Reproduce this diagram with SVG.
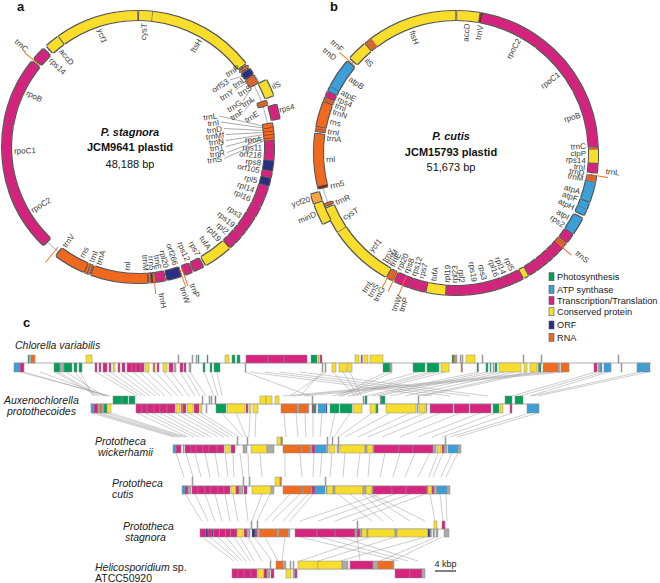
<svg xmlns="http://www.w3.org/2000/svg" width="660" height="583" viewBox="0 0 660 583">
<defs>
<style>
.t{font-family:"Liberation Sans",Arial,sans-serif}
.gl{font-size:8px;fill:#3a3a3a;dominant-baseline:central}
.e{text-anchor:end}
.m{text-anchor:middle}
.P{fill:#d6247f;stroke:#d6247f}
.Y{fill:#f8de2c;stroke:#f8de2c}
.O{fill:#ef6b1d;stroke:#ef6b1d}
.B{fill:#3a9fd8;stroke:#3a9fd8}
.N{fill:#2b2d83;stroke:#2b2d83}
.G{fill:#00a05b;stroke:#00a05b}
.Q{fill:#a9a9a9;stroke:#a9a9a9}
.K{fill:#8a1c1c;stroke:#8a1c1c}
.L{fill:#f4a640;stroke:#f4a640}
.rg circle{fill:none;stroke-width:9}
.og circle{fill:none;stroke-width:8}
.tg circle{fill:none;stroke-width:20}
.c rect{stroke:#8f8f8f;stroke-width:.5}
.lg rect{stroke:#555;stroke-width:.6}
.cn{fill:none;stroke:#9d9d9d;stroke-width:.5}
.ld{fill:none;stroke:#555;stroke-width:.5}
.base{fill:none;stroke:#9a9a9a;stroke-width:.8}
.ring{fill:none;stroke:#8a8a8a;stroke-width:.7}
.sp{font-size:10.5px;font-style:italic;fill:#222}
.nm{font-size:10.5px;fill:#222}
.ti{font-size:11px;fill:#111}
.pl{font-size:13px;font-weight:bold;fill:#111}
.lt{font-size:9.2px;fill:#222}
</style>
<filter id="ol" x="-5%" y="-5%" width="110%" height="110%">
<feMorphology in="SourceAlpha" operator="dilate" radius="0.55" result="d"/>
<feFlood flood-color="#555"/>
<feComposite in2="d" operator="in"/>
<feMerge><feMergeNode/><feMergeNode in="SourceGraphic"/></feMerge>
</filter>
</defs>
<rect width="660" height="583" fill="#fff"/>

<text class="t pl" x="17" y="11">a</text>
<text class="t pl" x="330" y="11">b</text>
<text class="t pl" x="23" y="327">c</text>

<!-- ===== Circle a ===== -->
<g id="circleA">
<circle class="ring" cx="138" cy="147" r="131.5"/>
<g class="rg" filter="url(#ol)" transform="translate(138 147) rotate(-90)">
<circle r="131.5" pathLength="360" class="Y" stroke-dasharray="5.5 360" stroke-dashoffset="-0.5"/>
<circle r="131.5" pathLength="360" class="Y" stroke-dasharray="45.6 360" stroke-dashoffset="-6.4"/>
<circle r="131.5" pathLength="360" class="Y" stroke-dasharray="12 360" stroke-dashoffset="-138"/>
<circle r="131.5" pathLength="360" class="Y" stroke-dasharray="6 360" stroke-dashoffset="-318"/>
<circle r="131.5" pathLength="360" class="Y" stroke-dasharray="35.2 360" stroke-dashoffset="-324.5"/>
<circle r="131.5" pathLength="360" class="P" stroke-dasharray="4.2 360" stroke-dashoffset="-87.5"/>
<circle r="131.5" pathLength="360" class="P" stroke-dasharray="3.5 360" stroke-dashoffset="-92"/>
<circle r="131.5" pathLength="360" class="P" stroke-dasharray="2.5 360" stroke-dashoffset="-100.5"/>
<circle r="131.5" pathLength="360" class="P" stroke-dasharray="4.7 360" stroke-dashoffset="-107"/>
<circle r="131.5" pathLength="360" class="P" stroke-dasharray="3.7 360" stroke-dashoffset="-112"/>
<circle r="131.5" pathLength="360" class="P" stroke-dasharray="4.7 360" stroke-dashoffset="-116"/>
<circle r="131.5" pathLength="360" class="P" stroke-dasharray="6.7 360" stroke-dashoffset="-121"/>
<circle r="131.5" pathLength="360" class="P" stroke-dasharray="2.7 360" stroke-dashoffset="-128"/>
<circle r="131.5" pathLength="360" class="P" stroke-dasharray="3.7 360" stroke-dashoffset="-131"/>
<circle r="131.5" pathLength="360" class="P" stroke-dasharray="2.3 360" stroke-dashoffset="-135"/>
<circle r="131.5" pathLength="360" class="P" stroke-dasharray="4 360" stroke-dashoffset="-151.5"/>
<circle r="131.5" pathLength="360" class="P" stroke-dasharray="3 360" stroke-dashoffset="-156.7"/>
<circle r="131.5" pathLength="360" class="P" stroke-dasharray="3.5 360" stroke-dashoffset="-168.5"/>
<circle r="131.5" pathLength="360" class="P" stroke-dasharray="27.7 360" stroke-dashoffset="-224"/>
<circle r="131.5" pathLength="360" class="P" stroke-dasharray="27.7 360" stroke-dashoffset="-252"/>
<circle r="131.5" pathLength="360" class="P" stroke-dasharray="28.8 360" stroke-dashoffset="-280"/>
<circle r="131.5" pathLength="360" class="P" stroke-dasharray="5.5 360" stroke-dashoffset="-310.5"/>
<circle r="131.5" pathLength="360" class="N" stroke-dasharray="2.5 360" stroke-dashoffset="-55"/>
<circle r="131.5" pathLength="360" class="N" stroke-dasharray="4 360" stroke-dashoffset="-96"/>
<circle r="131.5" pathLength="360" class="N" stroke-dasharray="3 360" stroke-dashoffset="-103.5"/>
<circle r="131.5" pathLength="360" class="N" stroke-dasharray="6 360" stroke-dashoffset="-161.5"/>
<circle r="131.5" pathLength="360" class="O" stroke-dasharray="24 360" stroke-dashoffset="-176"/>
<circle r="131.5" pathLength="360" class="O" stroke-dasharray="13.3 360" stroke-dashoffset="-203.5"/>
<circle r="131.5" pathLength="360" class="O" stroke-dasharray="7 360" stroke-dashoffset="-80"/>
<circle r="131.5" pathLength="360" class="O" stroke-dasharray="0.7 360" stroke-dashoffset="-53.2"/>
<circle r="131.5" pathLength="360" class="O" stroke-dasharray="0.7 360" stroke-dashoffset="-58.3"/>
<circle r="131.5" pathLength="360" class="O" stroke-dasharray="0.7 360" stroke-dashoffset="-59.2"/>
<circle r="131.5" pathLength="360" class="O" stroke-dasharray="0.7 360" stroke-dashoffset="-60.1"/>
<circle r="131.5" pathLength="360" class="O" stroke-dasharray="0.7 360" stroke-dashoffset="-61"/>
<circle r="131.5" pathLength="360" class="O" stroke-dasharray="0.7 360" stroke-dashoffset="-70.2"/>
<circle r="131.5" pathLength="360" class="O" stroke-dasharray="0.7 360" stroke-dashoffset="-71.1"/>
<circle r="131.5" pathLength="360" class="O" stroke-dasharray="0.7 360" stroke-dashoffset="-172.6"/>
<circle r="131.5" pathLength="360" class="K" stroke-dasharray="0.7 360" stroke-dashoffset="-173.6"/>
<circle r="131.5" pathLength="360" class="O" stroke-dasharray="0.7 360" stroke-dashoffset="-174.6"/>
<circle r="131.5" pathLength="360" class="O" stroke-dasharray="0.7 360" stroke-dashoffset="-201"/>
<circle r="131.5" pathLength="360" class="O" stroke-dasharray="0.7 360" stroke-dashoffset="-202.2"/>
<circle r="131.5" pathLength="360" class="K" stroke-dasharray="0.25 360" stroke-dashoffset="-81.6"/>
<circle r="131.5" pathLength="360" class="K" stroke-dasharray="0.25 360" stroke-dashoffset="-83.1"/>
<circle r="131.5" pathLength="360" class="K" stroke-dasharray="0.25 360" stroke-dashoffset="-84.6"/>
<circle r="131.5" pathLength="360" class="K" stroke-dasharray="0.25 360" stroke-dashoffset="-86"/>
</g>
<g class="og" filter="url(#ol)" transform="translate(138 147) rotate(-90)">
<circle r="140.5" pathLength="360" class="Y" stroke-dasharray="6.5 360" stroke-dashoffset="-62.5"/>
<circle r="140.5" pathLength="360" class="P" stroke-dasharray="5.5 360" stroke-dashoffset="-73"/>
</g>
<g class="tg" transform="translate(138 147) rotate(-90)">
<circle r="138" pathLength="360" class="O" stroke-dasharray="0.35 360" stroke-dashoffset="-160"/>
<circle r="138" pathLength="360" class="O" stroke-dasharray="0.35 360" stroke-dashoffset="-161"/>
<circle r="138" pathLength="360" class="O" stroke-dasharray="0.35 360" stroke-dashoffset="-172.9"/>
<circle r="138" pathLength="360" class="O" stroke-dasharray="0.35 360" stroke-dashoffset="-218.5"/>
<circle r="138" pathLength="360" class="O" stroke-dasharray="0.35 360" stroke-dashoffset="-309.6"/>
</g>
<g class="t gl e">
<text transform="rotate(3 138 147) translate(138 23) rotate(-90)">cysT</text>
<text transform="rotate(30 138 147) translate(138 23) rotate(-90)">ftsH</text>
<text transform="rotate(86.5 138 147) translate(138 23) rotate(-90)">rpoA</text>
<text transform="rotate(90.5 138 147) translate(138 23) rotate(-90)">rps11</text>
<text transform="rotate(94 138 147) translate(138 23) rotate(-90)">orf216</text>
<text transform="rotate(97.5 138 147) translate(138 23) rotate(-90)">rps8</text>
<text transform="rotate(101 138 147) translate(138 23) rotate(-90)">orf105</text>
<text transform="rotate(106 138 147) translate(138 23) rotate(-90)">rpl5</text>
<text transform="rotate(110.5 138 147) translate(138 23) rotate(-90)">rpl14</text>
<text transform="rotate(115 138 147) translate(138 23) rotate(-90)">rpl16</text>
<text transform="rotate(124 138 147) translate(138 23) rotate(-90)">rps3</text>
<text transform="rotate(129.5 138 147) translate(138 23) rotate(-90)">rps19</text>
<text transform="rotate(134 138 147) translate(138 23) rotate(-90)">rpl2</text>
<text transform="rotate(139 138 147) translate(138 23) rotate(-90)">rpl19</text>
<text transform="rotate(145 138 147) translate(138 23) rotate(-90)">tufA</text>
<text transform="rotate(151 138 147) translate(138 23) rotate(-90)">rps7</text>
<text transform="rotate(156.5 138 147) translate(138 23) rotate(-90)">rps12</text>
<text transform="rotate(162.5 138 147) translate(138 23) rotate(-90)">orf266</text>
<text transform="rotate(167 138 147) translate(138 23) rotate(-90)">rpl20</text>
<text transform="rotate(170.5 138 147) translate(138 23) rotate(-90)">trnE</text>
<text transform="rotate(173.5 138 147) translate(138 23) rotate(-90)">rrn5</text>
<text transform="rotate(176.5 138 147) translate(138 23) rotate(-90)">trnM</text>
<text transform="rotate(311 138 147) translate(138 0) rotate(90)">trnC</text>
</g>
<g class="t gl">
<text transform="rotate(185 138 147) translate(138 23) rotate(90)">rnl</text>
<text transform="rotate(198.5 138 147) translate(138 23) rotate(90)">trnA</text>
<text transform="rotate(202 138 147) translate(138 23) rotate(90)">trnI</text>
<text transform="rotate(207 138 147) translate(138 23) rotate(90)">rns</text>
<text transform="rotate(216.5 138 147) translate(138 23) rotate(90)">trnV</text>
<text transform="rotate(239 138 147) translate(138 23) rotate(90)">rpoC2</text>
<text transform="rotate(268 138 147) translate(138 23) rotate(90)">rpoC1</text>
<text transform="rotate(296 138 147) translate(138 23) rotate(90)">rpoB</text>
<text transform="rotate(315 138 147) translate(138 23) rotate(90)">rps14</text>
<text transform="rotate(321.5 138 147) translate(138 23) rotate(90)">accD</text>
<text transform="rotate(342 138 147) translate(138 23) rotate(90)">ycf1</text>
<text transform="rotate(66 138 147) translate(138 0) rotate(-90)">ilS</text>
<text transform="rotate(75.5 138 147) translate(138 1) rotate(-90)">rps4</text>
<text transform="rotate(158.5 138 147) translate(138 0) rotate(-90)">trnP</text>
<text transform="rotate(162.5 138 147) translate(138 0) rotate(-90)">trnW</text>
<text transform="rotate(171 138 147) translate(138 -1) rotate(-90)">trnH</text>
</g>
<g class="t gl e">
<text transform="translate(239 67) rotate(-33)">trnR</text>
<text transform="translate(228 81) rotate(-33)">orf53</text>
<text transform="translate(245 79) rotate(-33)">trnL</text>
<text transform="translate(233 91) rotate(-33)">trnY</text>
<text transform="translate(251 87) rotate(-33)">trnS</text>
<text transform="translate(241 102) rotate(-33)">trnG</text>
<text transform="translate(254 98) rotate(-33)">trnL</text>
<text transform="translate(243 111) rotate(-33)">trnF</text>
<text transform="translate(258 113) rotate(-33)">trnE</text>
<text transform="translate(217 116) rotate(-8)">trnL</text>
<text transform="translate(219 122.5) rotate(-8)">trnI</text>
<text transform="translate(222 129) rotate(-8)">trnD</text>
<text transform="translate(224 135) rotate(-8)">trnMf</text>
<text transform="translate(224 141) rotate(-8)">trnN</text>
<text transform="translate(224 147) rotate(-8)">trnT</text>
<text transform="translate(225 153) rotate(-8)">trnR</text>
<text transform="translate(222 159) rotate(-8)">trnS</text>
</g>
<path class="ld" d="M241 66L243 71M230 80L243 76M235 90L248 82M243 101L251 89M245 110L254 99M219 116L263 126M221 122L263.5 128M224 128.5L264 130.5M226 134.5L264 132.5M226 140.5L264.5 134.5M226 146.5L264.5 136.5M227 152.5L264.7 138.5M224 158.5L264.8 140.5"/>
<text class="t ti m" x="130" y="136" font-weight="bold" font-style="italic">P. stagnora</text>
<text class="t ti m" x="130" y="151" font-weight="bold">JCM9641 plastid</text>
<text class="t ti m" x="130" y="168">48,188 bp</text>
</g>

<!-- ===== Circle b ===== -->
<g id="circleB">
<circle class="ring" cx="456" cy="153" r="137.5"/>
<g class="rg" filter="url(#ol)" transform="translate(456 153) rotate(-90)">
<circle r="137.5" pathLength="360" class="Y" stroke-dasharray="9 360" stroke-dashoffset="-0.5"/>
<circle r="137.5" pathLength="360" class="Y" stroke-dasharray="5.5 360" stroke-dashoffset="-88.5"/>
<circle r="137.5" pathLength="360" class="Y" stroke-dasharray="2 360" stroke-dashoffset="-149.5"/>
<circle r="137.5" pathLength="360" class="Y" stroke-dasharray="7.5 360" stroke-dashoffset="-184.5"/>
<circle r="137.5" pathLength="360" class="Y" stroke-dasharray="26.5 360" stroke-dashoffset="-209.5"/>
<circle r="137.5" pathLength="360" class="Y" stroke-dasharray="10.5 360" stroke-dashoffset="-236.3"/>
<circle r="137.5" pathLength="360" class="Y" stroke-dasharray="8 360" stroke-dashoffset="-312"/>
<circle r="137.5" pathLength="360" class="Y" stroke-dasharray="36.2 360" stroke-dashoffset="-323.5"/>
<circle r="137.5" pathLength="360" class="P" stroke-dasharray="25.8 360" stroke-dashoffset="-11"/>
<circle r="137.5" pathLength="360" class="P" stroke-dasharray="24.8 360" stroke-dashoffset="-37"/>
<circle r="137.5" pathLength="360" class="P" stroke-dasharray="25.3 360" stroke-dashoffset="-62"/>
<circle r="137.5" pathLength="360" class="P" stroke-dasharray="3.5 360" stroke-dashoffset="-94.5"/>
<circle r="137.5" pathLength="360" class="P" stroke-dasharray="3.8 360" stroke-dashoffset="-125"/>
<circle r="137.5" pathLength="360" class="P" stroke-dasharray="2.3 360" stroke-dashoffset="-131.5"/>
<circle r="137.5" pathLength="360" class="P" stroke-dasharray="2.8 360" stroke-dashoffset="-134"/>
<circle r="137.5" pathLength="360" class="P" stroke-dasharray="2.8 360" stroke-dashoffset="-137"/>
<circle r="137.5" pathLength="360" class="P" stroke-dasharray="2.8 360" stroke-dashoffset="-140"/>
<circle r="137.5" pathLength="360" class="P" stroke-dasharray="2.8 360" stroke-dashoffset="-143"/>
<circle r="137.5" pathLength="360" class="P" stroke-dasharray="3 360" stroke-dashoffset="-146"/>
<circle r="137.5" pathLength="360" class="P" stroke-dasharray="3.8 360" stroke-dashoffset="-152"/>
<circle r="137.5" pathLength="360" class="P" stroke-dasharray="3.8 360" stroke-dashoffset="-156"/>
<circle r="137.5" pathLength="360" class="P" stroke-dasharray="3.8 360" stroke-dashoffset="-160"/>
<circle r="137.5" pathLength="360" class="P" stroke-dasharray="3.8 360" stroke-dashoffset="-164"/>
<circle r="137.5" pathLength="360" class="P" stroke-dasharray="3.8 360" stroke-dashoffset="-168"/>
<circle r="137.5" pathLength="360" class="P" stroke-dasharray="3.8 360" stroke-dashoffset="-172"/>
<circle r="137.5" pathLength="360" class="P" stroke-dasharray="3.8 360" stroke-dashoffset="-176"/>
<circle r="137.5" pathLength="360" class="P" stroke-dasharray="4 360" stroke-dashoffset="-180"/>
<circle r="137.5" pathLength="360" class="P" stroke-dasharray="2.8 360" stroke-dashoffset="-192.5"/>
<circle r="137.5" pathLength="360" class="P" stroke-dasharray="3.3 360" stroke-dashoffset="-195.5"/>
<circle r="137.5" pathLength="360" class="P" stroke-dasharray="2.8 360" stroke-dashoffset="-199.2"/>
<circle r="137.5" pathLength="360" class="P" stroke-dasharray="3.3 360" stroke-dashoffset="-202.2"/>
<circle r="137.5" pathLength="360" class="P" stroke-dasharray="2 360" stroke-dashoffset="-293.5"/>
<circle r="137.5" pathLength="360" class="B" stroke-dasharray="8 360" stroke-dashoffset="-102"/>
<circle r="137.5" pathLength="360" class="B" stroke-dasharray="2.8 360" stroke-dashoffset="-110.5"/>
<circle r="137.5" pathLength="360" class="B" stroke-dasharray="2.3 360" stroke-dashoffset="-113.5"/>
<circle r="137.5" pathLength="360" class="B" stroke-dasharray="7 360" stroke-dashoffset="-117.5"/>
<circle r="137.5" pathLength="360" class="B" stroke-dasharray="1.7 360" stroke-dashoffset="-296"/>
<circle r="137.5" pathLength="360" class="B" stroke-dasharray="12 360" stroke-dashoffset="-298"/>
<circle r="137.5" pathLength="360" class="O" stroke-dasharray="21.3 360" stroke-dashoffset="-256.5"/>
<circle r="137.5" pathLength="360" class="O" stroke-dasharray="10 360" stroke-dashoffset="-281"/>
<circle r="137.5" pathLength="360" class="O" stroke-dasharray="0.6 360" stroke-dashoffset="-88"/>
<circle r="137.5" pathLength="360" class="O" stroke-dasharray="0.6 360" stroke-dashoffset="-99.6"/>
<circle r="137.5" pathLength="360" class="O" stroke-dasharray="0.6 360" stroke-dashoffset="-100.4"/>
<circle r="137.5" pathLength="360" class="O" stroke-dasharray="0.6 360" stroke-dashoffset="-101.2"/>
<circle r="137.5" pathLength="360" class="O" stroke-dasharray="0.6 360" stroke-dashoffset="-129.3"/>
<circle r="137.5" pathLength="360" class="O" stroke-dasharray="0.6 360" stroke-dashoffset="-130.1"/>
<circle r="137.5" pathLength="360" class="O" stroke-dasharray="0.6 360" stroke-dashoffset="-130.9"/>
<circle r="137.5" pathLength="360" class="O" stroke-dasharray="0.6 360" stroke-dashoffset="-206.6"/>
<circle r="137.5" pathLength="360" class="O" stroke-dasharray="0.6 360" stroke-dashoffset="-207.4"/>
<circle r="137.5" pathLength="360" class="O" stroke-dasharray="0.6 360" stroke-dashoffset="-208.2"/>
<circle r="137.5" pathLength="360" class="O" stroke-dasharray="0.6 360" stroke-dashoffset="-248"/>
<circle r="137.5" pathLength="360" class="O" stroke-dasharray="0.6 360" stroke-dashoffset="-279"/>
<circle r="137.5" pathLength="360" class="O" stroke-dasharray="0.6 360" stroke-dashoffset="-280"/>
<circle r="137.5" pathLength="360" class="O" stroke-dasharray="0.6 360" stroke-dashoffset="-291.5"/>
<circle r="137.5" pathLength="360" class="O" stroke-dasharray="0.6 360" stroke-dashoffset="-292.4"/>
<circle r="137.5" pathLength="360" class="O" stroke-dasharray="0.6 360" stroke-dashoffset="-320.5"/>
<circle r="137.5" pathLength="360" class="O" stroke-dasharray="0.6 360" stroke-dashoffset="-321.3"/>
<circle r="137.5" pathLength="360" class="O" stroke-dasharray="0.6 360" stroke-dashoffset="-322.1"/>
<circle r="137.5" pathLength="360" class="O" stroke-dasharray="0.6 360" stroke-dashoffset="-322.9"/>
<circle r="137.5" pathLength="360" class="K" stroke-dasharray="0.6 360" stroke-dashoffset="-10.1"/>
<circle r="137.5" pathLength="360" class="K" stroke-dasharray="0.7 360" stroke-dashoffset="-255.5"/>
</g>
<g class="og" filter="url(#ol)" transform="translate(456 153) rotate(-90)">
<circle r="146.5" pathLength="360" class="Y" stroke-dasharray="8 360" stroke-dashoffset="-242"/>
<circle r="146.5" pathLength="360" class="L" stroke-dasharray="3.5 360" stroke-dashoffset="-250.5"/>
</g>
<g class="tg" transform="translate(456 153) rotate(-90)">
<circle r="144" pathLength="360" class="O" stroke-dasharray="0.35 360" stroke-dashoffset="-99"/>
<circle r="144" pathLength="360" class="O" stroke-dasharray="0.35 360" stroke-dashoffset="-131.4"/>
<circle r="144" pathLength="360" class="O" stroke-dasharray="0.35 360" stroke-dashoffset="-201.8"/>
<circle r="144" pathLength="360" class="O" stroke-dasharray="0.35 360" stroke-dashoffset="-206"/>
<circle r="144" pathLength="360" class="O" stroke-dasharray="0.35 360" stroke-dashoffset="-208.6"/>
<circle r="144" pathLength="360" class="O" stroke-dasharray="0.35 360" stroke-dashoffset="-310.6"/>
</g>
<g class="t gl e">
<text transform="rotate(5 456 153) translate(456 23) rotate(-90)">accD</text>
<text transform="rotate(11 456 153) translate(456 23) rotate(-90)">trnV</text>
<text transform="rotate(29 456 153) translate(456 23) rotate(-90)">rpoC2</text>
<text transform="rotate(52.5 456 153) translate(456 23) rotate(-90)">rpoC1</text>
<text transform="rotate(73 456 153) translate(456 23) rotate(-90)">rpoB</text>
<text transform="rotate(87 456 153) translate(456 23) rotate(-90)">trnC</text>
<text transform="rotate(90 456 153) translate(456 23) rotate(-90)">clpP</text>
<text transform="rotate(93.5 456 153) translate(456 23) rotate(-90)">rps14</text>
<text transform="rotate(96.5 456 153) translate(456 23) rotate(-90)">trnI</text>
<text transform="rotate(99 456 153) translate(456 23) rotate(-90)">trnD</text>
<text transform="rotate(101.5 456 153) translate(456 23) rotate(-90)">trnM</text>
<text transform="rotate(107.5 456 153) translate(456 23) rotate(-90)">atpA</text>
<text transform="rotate(111 456 153) translate(456 23) rotate(-90)">atpF</text>
<text transform="rotate(115 456 153) translate(456 23) rotate(-90)">atpH</text>
<text transform="rotate(120 456 153) translate(456 23) rotate(-90)">atpI</text>
<text transform="rotate(124 456 153) translate(456 23) rotate(-90)">rps2</text>
<text transform="rotate(154.5 456 153) translate(456 23) rotate(-90)">rpl5</text>
<text transform="rotate(158.5 456 153) translate(456 23) rotate(-90)">rpl14</text>
<text transform="rotate(162 456 153) translate(456 23) rotate(-90)">rpl16</text>
<text transform="rotate(167.5 456 153) translate(456 23) rotate(-90)">rps3</text>
<text transform="rotate(172 456 153) translate(456 23) rotate(-90)">rps19</text>
<text transform="rotate(177.5 456 153) translate(456 23) rotate(-90)">rpl2</text>
<text transform="rotate(199 456 153) translate(456 0) rotate(90)">trnP</text>
<text transform="rotate(201.5 456 153) translate(456 0) rotate(90)">trnW</text>
<text transform="rotate(208.5 456 153) translate(456 0) rotate(90)">trnG</text>
<text transform="rotate(211 456 153) translate(456 0) rotate(90)">trnS</text>
<text transform="rotate(213.5 456 153) translate(456 0) rotate(90)">trnL</text>
<text transform="rotate(246.5 456 153) translate(456 0) rotate(90)">minD</text>
<text transform="rotate(252.5 456 153) translate(456 0) rotate(90)">ycf20</text>
<text transform="rotate(308 456 153) translate(456 0) rotate(90)">trnD</text>
<text transform="rotate(312 456 153) translate(456 0) rotate(90)">trnF</text>
</g>
<g class="t gl">
<text transform="rotate(180.5 456 153) translate(456 23) rotate(90)">rpl23</text>
<text transform="rotate(184 456 153) translate(456 23) rotate(90)">rpl19</text>
<text transform="rotate(190 456 153) translate(456 23) rotate(90)">tufA</text>
<text transform="rotate(195.5 456 153) translate(456 23) rotate(90)">rps7</text>
<text transform="rotate(199 456 153) translate(456 23) rotate(90)">rps12</text>
<text transform="rotate(202.5 456 153) translate(456 23) rotate(90)">rps8</text>
<text transform="rotate(206 456 153) translate(456 23) rotate(90)">rpl20</text>
<text transform="rotate(209.5 456 153) translate(456 23) rotate(90)">trnE</text>
<text transform="rotate(211.5 456 153) translate(456 23) rotate(90)">trnM</text>
<text transform="rotate(213.5 456 153) translate(456 23) rotate(90)">trnY</text>
<text transform="rotate(221 456 153) translate(456 23) rotate(90)">ycf1</text>
<text transform="rotate(240 456 153) translate(456 23) rotate(90)">cysT</text>
<text transform="rotate(247.5 456 153) translate(456 23) rotate(90)">trnR</text>
<text transform="rotate(255 456 153) translate(456 23) rotate(90)">rrn5</text>
<text transform="rotate(267 456 153) translate(456 23) rotate(90)">rnl</text>
<text transform="rotate(276.5 456 153) translate(456 23) rotate(90)">trnA</text>
<text transform="rotate(279.5 456 153) translate(456 23) rotate(90)">trnI</text>
<text transform="rotate(284 456 153) translate(456 23) rotate(90)">rns</text>
<text transform="rotate(288.5 456 153) translate(456 23) rotate(90)">trnN</text>
<text transform="rotate(291.5 456 153) translate(456 23) rotate(90)">trnI</text>
<text transform="rotate(294.5 456 153) translate(456 23) rotate(90)">rps4</text>
<text transform="rotate(298 456 153) translate(456 23) rotate(90)">atpE</text>
<text transform="rotate(305 456 153) translate(456 23) rotate(90)">atpB</text>
<text transform="rotate(316 456 153) translate(456 23) rotate(90)">ilS</text>
<text transform="rotate(340 456 153) translate(456 23) rotate(90)">ftsH</text>
<text transform="rotate(97 456 153) translate(456 2) rotate(-90)">trnL</text>
<text transform="rotate(129.5 456 153) translate(456 -3) rotate(-90)">trnS</text>
</g>
<text class="t ti m" x="451" y="140" font-weight="bold" font-style="italic">P. cutis</text>
<text class="t ti m" x="451" y="156" font-weight="bold">JCM15793 plastid</text>
<text class="t ti m" x="451" y="171">51,673 bp</text>
</g>

<!-- ===== Legend ===== -->
<g id="legend" class="lg">
<rect x="549" y="272.7" width="5" height="8" class="G"/>
<rect x="549" y="285.3" width="5" height="8" class="B"/>
<rect x="549" y="296.5" width="5" height="8" class="P"/>
<rect x="549" y="307.7" width="5" height="8" class="Y"/>
<rect x="549" y="321" width="5" height="8" class="N"/>
<rect x="549" y="333.3" width="5" height="8" class="O"/>
<g class="t lt">
<text x="557" y="280">Photosynthesis</text>
<text x="557" y="292.6">ATP synthase</text>
<text x="557" y="303.8">Transcription/Translation</text>
<text x="557" y="315">Conserved protein</text>
<text x="557" y="328.3">ORF</text>
<text x="557" y="340.6">RNA</text>
</g>
</g>

<!-- ===== Panel c connectors ===== -->
<g id="connectors">
<path class="cn" d="M20 372L110 396M24 372L108 396M40 372L106 396M55 372L97 396M58 372L100 396M66 372L104 396M75 372L95 396M80 372L93 396M96 372L137 396M103 372L141 396M110 372L145 396M118 372L150 396M125 372L155 396M133 372L160 396M140 372L165 396M147 372L172 396M155 372L178 396M164 372L183 396M171 372L189 396M180 372L195 396M186 372L200 396M190 372L206 396M204 372L214 396M211 372L218 396M217 372L222 396M245 372L310 396M250 372L432 396M265 372L450 396M280 372L470 396M300 372L488 396M322 372L300 396M326 372L290 396M333 372L355 396M343 372L358 396M350 372L361 396M386 372L338 396M392 372L342 396M418 372L332 396M430 372L340 396M436 372L348 396M445 372L352 396M478 372L365 396M487 372L372 396M496 372L378 396M505 372L390 396M515 372L405 396M527 372L418 396M535 372L423 396M545 372L283 396M555 372L292 396M565 372L304 396M596 372L512 396M603 372L520 396M608 372L530 396M640 372L532 396M648 372L538 396"/>
<path class="cn" d="M92 413L174 437M96 413L177 437M100 413L180 437M106 413L183 437M111 413L186 437M137 413L188 437M145 413L194 437M152 413L199 437M160 413L205 437M167 413L211 437M175 413L218 437M182 413L224 437M189 413L229 437M196 413L234 437M201 413L239 437M222 413L243 437M236 413L246 437M250 413L249 437M256 413L255 437M284 413L286 437M296 413L298 437M305 413L306 437M313 413L313 437M322 413L320 437M335 413L330 437M350 413L334 437M372 413L338 437M390 413L345 437M410 413L358 437M425 413L368 437M440 413L382 437M460 413L400 437M480 413L418 437M495 413L432 437M512 413L442 437M530 413L450 437M538 413L457 437"/>
<path class="cn" d="M176 453L184 477M186 453L193 477M195 453L201 477M205 453L210 477M215 453L219 477M225 453L228 477M233 453L234 477M240 453L243 477M248 453L249 477M260 453L262 477M285 453L285 477M300 453L302 477M314 453L313 477M322 453L320 477M332 453L330 477M345 453L343 477M360 453L357 477M370 453L368 477M385 453L380 477M400 453L393 477M415 453L405 477M430 453L418 477M438 453L429 477M443 453L433 477M452 453L441 477M458 453L446 477"/>
<path class="cn" d="M185 494L202 521M195 494L208 521M205 494L215 521M215 494L222 521M225 494L230 521M233 494L238 521M245 494L248 521M262 494L252 521M270 494L257 521M290 494L265 521M300 494L272 521M308 494L283 521M313 494L290 521M338 494L372 521M350 494L383 521M362 494L393 521M368 494L410 521M371 494L425 521M380 494L300 521M395 494L318 521M410 494L335 521M425 494L352 521M430 494L435 521M440 494L443 521M446 494L447 521"/>
<path class="cn" d="M202 537L234 561M210 537L238 561M218 537L242 561M226 537L246 561M234 537L250 561M240 537L254 561M248 537L262 561M254 537L272 561M265 537L278 561M285 537L282 561M300 537L398 561M320 537L408 561M340 537L418 561M357 537L360 561M370 537L300 561M395 537L318 561M425 537L340 561M436 537L380 561M442 537L392 561"/>
</g>

<!-- ===== Panel c rows ===== -->
<g id="row1" class="c">
<text class="t sp" x="15" y="349">Chlorella variabilis</text>
<line class="base" x1="14" y1="363" x2="651" y2="363"/>
<g transform="translate(0 363)">
<rect x="14" width="6" height="9" class="B"/><rect x="20" width="4" height="9" class="P"/>
<rect x="54" width="6" height="9" class="G"/><rect x="60" width="4" height="9" class="Q"/><rect x="64" width="8" height="9" class="G"/><rect x="74" width="3" height="9" class="G"/><rect x="79" width="3" height="9" class="G"/>
<rect x="95" width="2" height="9" class="P"/><rect x="99" width="2" height="9" class="P"/><rect x="103" width="4" height="9" class="P"/><rect x="109" width="2" height="9" class="P"/><rect x="113" width="2" height="9" class="Y"/><rect x="118" width="2" height="9" class="P"/><rect x="122" width="3" height="9" class="P"/>
<rect x="127" width="5" height="9" class="P"/><rect x="132" width="4" height="9" class="P"/><rect x="136" width="5" height="9" class="P"/><rect x="141" width="3" height="9" class="P"/><rect x="145" width="4" height="9" class="Y"/>
<rect x="153" width="2" height="9" class="O"/><rect x="157" width="2" height="9" class="P"/><rect x="163" width="4" height="9" class="Y"/><rect x="169" width="4" height="9" class="P"/><rect x="174" width="2" height="9" class="Q"/>
<rect x="180" width="3" height="9" class="P"/><rect x="184" width="2" height="9" class="P"/><rect x="189" width="2" height="9" class="Q"/>
<rect x="203" width="2" height="9" class="G"/><rect x="210" width="2" height="9" class="G"/><rect x="214" width="6" height="9" class="G"/>
<rect x="245" width="1" height="9" class="Q"/><rect x="322" width="1" height="9" class="Q"/><rect x="325" width="1" height="9" class="Q"/>
<rect x="332" width="4" height="9" class="Y"/><rect x="339" width="8" height="9" class="Y"/><rect x="348" width="4" height="9" class="Y"/>
<rect x="383" width="7" height="9" class="G"/><rect x="390" width="2" height="9" class="Q"/>
<rect x="413" width="12" height="9" class="G"/><rect x="427" width="12" height="9" class="G"/><rect x="441" width="8" height="9" class="Y"/>
<rect x="461" width="1.5" height="9" class="O"/>
<rect x="477" width="1.5" height="9" class="G"/><rect x="486" width="2" height="9" class="G"/><rect x="490" width="1" height="9" class="G"/><rect x="493" width="1" height="9" class="Q"/><rect x="495" width="2" height="9" class="G"/>
<rect x="499" width="22" height="9" class="Y"/><rect x="524" width="3" height="9" class="Y"/><rect x="530" width="7" height="9" class="Y"/><rect x="538" width="1" height="9" class="Q"/><rect x="539" width="2" height="9" class="G"/>
<rect x="543" width="15" height="9" class="O"/><rect x="558" width="2" height="9" class="Q"/><rect x="561" width="8" height="9" class="O"/>
<rect x="594" width="3" height="9" class="P"/><rect x="598" width="2" height="9" class="Q"/><rect x="600" width="2" height="9" class="B"/><rect x="604" width="7" height="9" class="B"/>
<rect x="621" width="1" height="9" class="Q"/>
<rect x="637" width="8" height="9" class="B"/><rect x="645" width="3" height="9" class="B"/><rect x="648" width="2" height="9" class="B"/>
</g>
<g transform="translate(0 355)">
<rect x="28" width="1" height="8" class="G"/><rect x="29.5" width="1" height="8" class="Q"/><rect x="31" width="4" height="8" class="O"/>
<rect x="86" width="6" height="8" class="Y"/>
<rect x="178" width="1" height="8" class="Q"/><rect x="192" width="1" height="8" class="Q"/><rect x="196" width="1" height="8" class="Q"/><rect x="198" width="1" height="8" class="G"/><rect x="207" width="1" height="8" class="G"/>
<rect x="225" width="4" height="8" class="Y"/><rect x="232" width="3" height="8" class="G"/><rect x="237" width="3" height="8" class="G"/>
<rect x="246" width="22" height="8" class="P"/><rect x="268" width="16" height="8" class="P"/><rect x="284" width="23" height="8" class="P"/>
<rect x="311" width="6" height="8" class="G"/><rect x="318" width="1" height="8" class="Y"/><rect x="320" width="2" height="8" class="P"/>
<rect x="355" width="4" height="8" class="Y"/><rect x="361" width="1.5" height="8" class="P"/><rect x="364" width="4" height="8" class="Y"/><rect x="370" width="13" height="8" class="Y"/>
<rect x="452" width="2" height="8" class="G"/><rect x="454" width="1.5" height="8" class="O"/><rect x="456" width="1" height="8" class="Q"/><rect x="460" width="1" height="8" class="Q"/><rect x="462" width="1" height="8" class="Q"/><rect x="466" width="9" height="8" class="Y"/>
<rect x="482" width="1" height="8" class="Q"/><rect x="523" width="1" height="8" class="Q"/><rect x="541" width="1" height="8" class="Q"/><rect x="618" width="1" height="8" class="Q"/>
</g>
</g>

<g id="row2" class="c">
<text class="t sp" x="4" y="404">Auxenochlorella</text>
<text class="t sp" x="7" y="415">protothecoides</text>
<line class="base" x1="90" y1="404" x2="539" y2="404"/>
<g transform="translate(0 404)">
<rect x="91" width="3" height="9" class="B"/><rect x="94" width="4" height="9" class="P"/><rect x="98" width="2" height="9" class="Q"/><rect x="100" width="2" height="9" class="O"/><rect x="102" width="2" height="9" class="Q"/><rect x="104" width="3" height="9" class="G"/><rect x="107" width="4" height="9" class="Y"/>
<rect x="136" width="6" height="9" class="P"/><rect x="142" width="5" height="9" class="P"/><rect x="147" width="7" height="9" class="P"/><rect x="154" width="6" height="9" class="P"/><rect x="160" width="7" height="9" class="P"/><rect x="167" width="8" height="9" class="P"/>
<rect x="176" width="4" height="9" class="Y"/><rect x="181" width="2" height="9" class="O"/><rect x="183" width="3" height="9" class="P"/><rect x="187" width="6" height="9" class="Y"/><rect x="194" width="5" height="9" class="P"/><rect x="200" width="2" height="9" class="Y"/><rect x="206" width="1" height="9" class="Q"/>
<rect x="216" width="10" height="9" class="G"/><rect x="227" width="18" height="9" class="Y"/><rect x="246" width="2" height="9" class="P"/><rect x="249" width="2" height="9" class="Y"/><rect x="253" width="5" height="9" class="Y"/>
<rect x="281" width="16" height="9" class="O"/><rect x="297" width="2" height="9" class="Q"/><rect x="299" width="9" height="9" class="O"/><rect x="308" width="1" height="9" class="Q"/><rect x="312" width="2" height="9" class="P"/><rect x="314" width="2" height="9" class="G"/><rect x="318" width="8" height="9" class="B"/><rect x="326" width="1" height="9" class="N"/>
<rect x="330" width="9" height="9" class="G"/><rect x="340" width="12" height="9" class="G"/><rect x="353" width="9" height="9" class="Y"/>
<rect x="370" width="6" height="9" class="Y"/><rect x="376" width="2" height="9" class="G"/>
<rect x="386" width="30" height="9" class="Y"/><rect x="417" width="1" height="9" class="Q"/><rect x="419" width="6" height="9" class="Y"/><rect x="426" width="1" height="9" class="Q"/><rect x="430" width="23" height="9" class="P"/><rect x="454" width="15" height="9" class="P"/><rect x="470" width="21" height="9" class="P"/>
<rect x="493" width="6" height="9" class="G"/><rect x="500" width="3" height="9" class="Y"/><rect x="510" width="2" height="9" class="P"/>
<rect x="527" width="9" height="9" class="B"/><rect x="536" width="3" height="9" class="B"/>
</g>
<g transform="translate(0 396)">
<rect x="113" width="9" height="8" class="G"/><rect x="122" width="6" height="8" class="G"/><rect x="129" width="6" height="8" class="G"/>
<rect x="202" width="1" height="8" class="Q"/><rect x="209" width="1" height="8" class="Q"/><rect x="211" width="1" height="8" class="Q"/><rect x="215" width="1" height="8" class="G"/>
<rect x="260" width="6" height="8" class="Y"/><rect x="266" width="6" height="8" class="Y"/><rect x="275" width="4" height="8" class="Y"/>
<rect x="312" width="1" height="8" class="Q"/>
<rect x="363" width="1" height="8" class="O"/><rect x="365" width="2" height="8" class="G"/><rect x="380" width="1" height="8" class="Q"/><rect x="381" width="4" height="8" class="G"/>
<rect x="418" width="1" height="8" class="Q"/>
<rect x="505" width="7" height="8" class="G"/><rect x="515" width="8" height="8" class="G"/>
</g>
</g>

<g id="row3" class="c">
<text class="t sp" x="95" y="445">Prototheca</text>
<text class="t sp" x="98" y="456">wickerhamii</text>
<line class="base" x1="173" y1="445" x2="461" y2="445"/>
<g transform="translate(0 445)">
<rect x="173" width="3" height="8" class="B"/><rect x="176" width="5" height="8" class="P"/><rect x="183" width="1" height="8" class="Q"/>
<rect x="185" width="6" height="8" class="P"/><rect x="191" width="5" height="8" class="P"/><rect x="196" width="7" height="8" class="P"/><rect x="203" width="6" height="8" class="P"/><rect x="209" width="8" height="8" class="P"/><rect x="217" width="7" height="8" class="P"/>
<rect x="225" width="5" height="8" class="Y"/><rect x="231" width="4" height="8" class="P"/><rect x="243" width="4" height="8" class="Q"/>
<rect x="251" width="16" height="8" class="Y"/><rect x="267" width="7" height="8" class="Q"/><rect x="283" width="18" height="8" class="O"/><rect x="301" width="1" height="8" class="Q"/><rect x="302" width="8" height="8" class="O"/><rect x="310" width="2" height="8" class="Q"/><rect x="312" width="3" height="8" class="P"/><rect x="315" width="11" height="8" class="B"/>
<rect x="326" width="2" height="8" class="Q"/><rect x="329" width="6" height="8" class="Y"/><rect x="337" width="2" height="8" class="Q"/><rect x="340" width="25" height="8" class="Y"/><rect x="365" width="2" height="8" class="Q"/><rect x="367" width="6" height="8" class="Y"/><rect x="373" width="1" height="8" class="Q"/>
<rect x="374" width="25" height="8" class="P"/><rect x="399" width="14" height="8" class="P"/><rect x="413" width="20" height="8" class="P"/><rect x="433" width="3" height="8" class="Q"/><rect x="437" width="4" height="8" class="Y"/><rect x="442" width="2" height="8" class="P"/><rect x="444" width="3" height="8" class="Q"/><rect x="448" width="10" height="8" class="B"/><rect x="458" width="3" height="8" class="Q"/>
</g>
<g transform="translate(0 437)">
<rect x="237" width="1" height="8" class="Q"/><rect x="247" width="1" height="8" class="Q"/><rect x="277" width="4" height="8" class="Y"/><rect x="281" width="1.5" height="8" class="O"/><rect x="327" width="1" height="8" class="Q"/><rect x="332" width="1" height="8" class="Q"/><rect x="338" width="1" height="8" class="Q"/><rect x="445" width="1" height="8" class="Q"/>
</g>
</g>

<g id="row4" class="c">
<text class="t sp" x="112" y="487">Prototheca</text>
<text class="t sp" x="112" y="498">cutis</text>
<line class="base" x1="182" y1="486" x2="450" y2="486"/>
<g transform="translate(0 486)">
<rect x="182" width="3" height="8" class="B"/><rect x="185" width="3" height="8" class="P"/><rect x="188" width="3" height="8" class="Q"/>
<rect x="192" width="6" height="8" class="P"/><rect x="198" width="7" height="8" class="P"/><rect x="205" width="6" height="8" class="P"/><rect x="211" width="7" height="8" class="P"/><rect x="218" width="6" height="8" class="P"/><rect x="224" width="6" height="8" class="P"/>
<rect x="231" width="5" height="8" class="Y"/><rect x="236" width="3" height="8" class="P"/><rect x="239" width="4" height="8" class="Q"/><rect x="244" width="3" height="8" class="P"/>
<rect x="252" width="19" height="8" class="Y"/><rect x="271" width="3" height="8" class="Q"/><rect x="283" width="19" height="8" class="O"/><rect x="302" width="1" height="8" class="Q"/><rect x="303" width="8" height="8" class="O"/><rect x="311" width="1" height="8" class="Q"/><rect x="312" width="3" height="8" class="P"/><rect x="315" width="10" height="8" class="B"/>
<rect x="326" width="1" height="8" class="Q"/><rect x="327" width="6" height="8" class="Y"/><rect x="333" width="2" height="8" class="Q"/><rect x="335" width="28" height="8" class="Y"/><rect x="363" width="3" height="8" class="Q"/><rect x="366" width="6" height="8" class="Y"/><rect x="372" width="1" height="8" class="Q"/>
<rect x="373" width="19" height="8" class="P"/><rect x="392" width="14" height="8" class="P"/><rect x="406" width="21" height="8" class="P"/><rect x="427" width="1" height="8" class="Q"/><rect x="428" width="4" height="8" class="Y"/><rect x="432" width="2" height="8" class="P"/><rect x="434" width="3" height="8" class="Q"/><rect x="437" width="10" height="8" class="B"/><rect x="447" width="3" height="8" class="Q"/>
</g>
<g transform="translate(0 477)">
<rect x="192" width="1" height="9" class="Q"/><rect x="243" width="1" height="9" class="Q"/><rect x="249" width="1" height="9" class="Q"/><rect x="275" width="5" height="9" class="Y"/><rect x="280" width="1.5" height="9" class="O"/><rect x="325" width="1" height="9" class="Q"/>
</g>
</g>

<g id="row5" class="c">
<text class="t sp" x="123" y="530">Prototheca</text>
<text class="t sp" x="125" y="541">stagnora</text>
<line class="base" x1="200" y1="529" x2="449" y2="529"/>
<g transform="translate(0 529)">
<rect x="200" width="6" height="8" class="P"/><rect x="206" width="2" height="8" class="N"/><rect x="208" width="4" height="8" class="P"/><rect x="212" width="1.5" height="8" class="N"/>
<rect x="213.5" width="6" height="8" class="P"/><rect x="219.5" width="6" height="8" class="P"/><rect x="225.5" width="5" height="8" class="P"/><rect x="230.5" width="6.5" height="8" class="P"/>
<rect x="237" width="6" height="8" class="Y"/><rect x="244" width="3" height="8" class="P"/><rect x="247" width="3" height="8" class="Q"/><rect x="252" width="3" height="8" class="N"/><rect x="255" width="2" height="8" class="P"/><rect x="257" width="3" height="8" class="Q"/>
<rect x="260" width="17" height="8" class="O"/><rect x="277" width="2" height="8" class="Q"/><rect x="279" width="9" height="8" class="O"/><rect x="288" width="2" height="8" class="Q"/>
<rect x="295" width="22" height="8" class="P"/><rect x="317" width="18" height="8" class="P"/><rect x="335" width="20" height="8" class="P"/><rect x="355" width="2" height="8" class="Q"/><rect x="357" width="3" height="8" class="P"/><rect x="360" width="2" height="8" class="Q"/>
<rect x="362" width="5" height="8" class="Y"/><rect x="367" width="1" height="8" class="Q"/><rect x="368" width="27" height="8" class="Y"/><rect x="395" width="2" height="8" class="Q"/><rect x="397" width="31" height="8" class="Y"/><rect x="428" width="2" height="8" class="N"/>
<rect x="430" width="1.5" height="8" class="Q"/><rect x="433" width="1.5" height="8" class="Q"/><rect x="436" width="2" height="8" class="Q"/><rect x="444" width="5" height="8" class="Q"/>
</g>
<g transform="translate(0 521)">
<rect x="251" width="1" height="8" class="Q"/><rect x="257" width="1" height="8" class="Q"/><rect x="357" width="1" height="8" class="Q"/><rect x="434" width="3" height="8" class="Y"/><rect x="442" width="3" height="8" class="P"/>
</g>
</g>

<g id="row6" class="c">
<text class="t sp" x="95" y="571">Helicosporidium<tspan style="font-style:normal"> sp.</tspan></text>
<text class="t nm" x="95" y="582">ATCC50920</text>
<line class="base" x1="232" y1="569" x2="425" y2="569"/>
<g transform="translate(0 569)">
<rect x="232" width="6" height="9" class="P"/><rect x="238" width="6" height="9" class="P"/><rect x="244" width="7" height="9" class="P"/><rect x="251" width="6" height="9" class="P"/>
<rect x="258" width="6" height="9" class="Y"/><rect x="264" width="3" height="9" class="P"/><rect x="267" width="3" height="9" class="Q"/><rect x="271" width="3" height="9" class="P"/>
<rect x="286" width="5" height="9" class="Y"/><rect x="293" width="2" height="9" class="Q"/><rect x="295" width="2" height="9" class="P"/>
<rect x="395" width="15" height="9" class="P"/><rect x="410" width="12" height="9" class="P"/><rect x="422" width="3" height="9" class="Q"/>
</g>
<g transform="translate(0 561)">
<rect x="270" width="1" height="8" class="Q"/><rect x="276" width="7" height="8" class="O"/><rect x="283" width="3" height="8" class="Q"/><rect x="290" width="1" height="8" class="Q"/><rect x="293" width="1" height="8" class="Q"/>
<rect x="298" width="20" height="8" class="Y"/><rect x="318" width="24" height="8" class="Y"/><rect x="342" width="6" height="8" class="Q"/><rect x="350" width="23" height="8" class="P"/><rect x="373" width="5" height="8" class="Q"/><rect x="378" width="15" height="8" class="O"/><rect x="393" width="1" height="8" class="Q"/>
</g>
</g>

<g id="scalebar">
<text class="t m" x="445.5" y="567" font-size="9" fill="#222">4 kbp</text>
<line x1="435" y1="571" x2="456" y2="571" stroke="#555" stroke-width="1.5"/>
</g>
</svg>
